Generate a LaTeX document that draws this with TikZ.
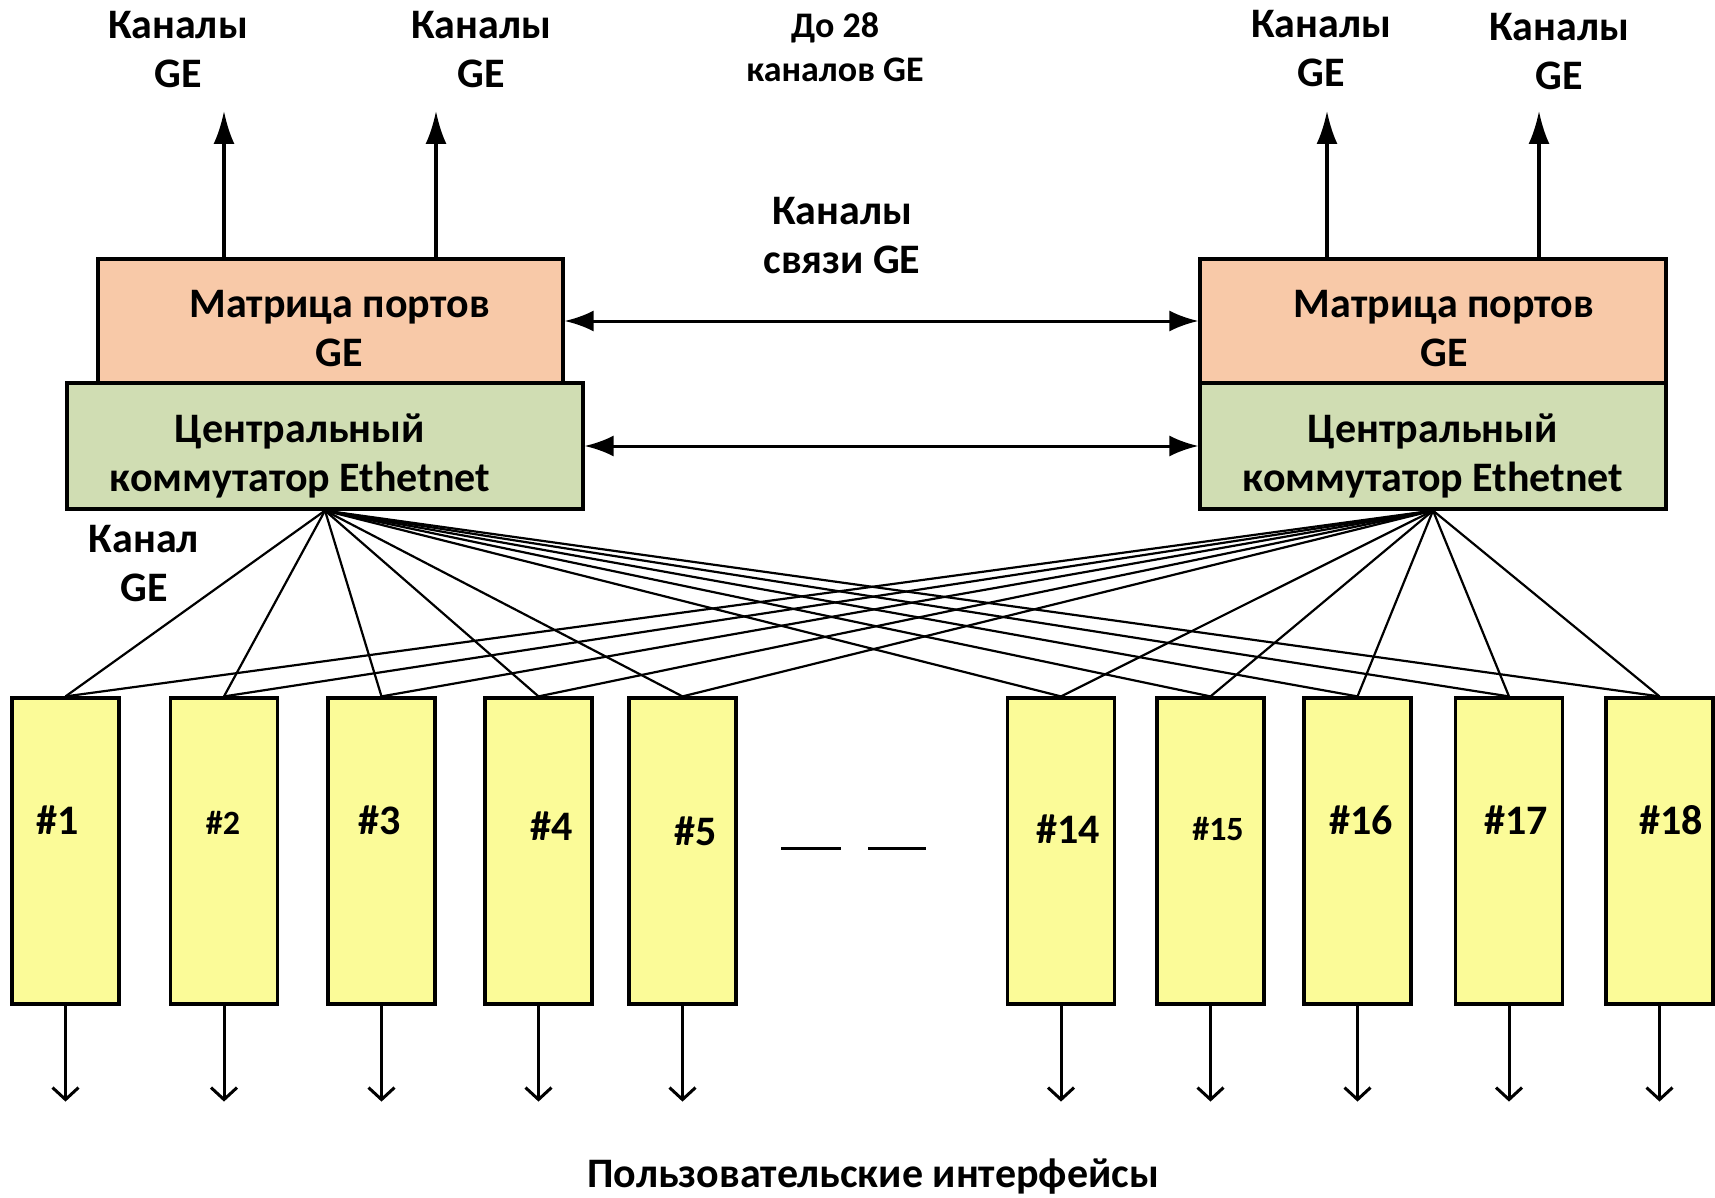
\documentclass[tikz,border=0pt]{standalone}
\usepackage{fontspec}
\setmainfont{Carlito}
\usetikzlibrary{arrows.meta}
\definecolor{matcol}{HTML}{F8C9A8}
\definecolor{swcol}{HTML}{D0DDB3}
\definecolor{ucol}{HTML}{FBFB98}
\tikzset{
  bigfont/.style={font=\bfseries\fontsize{42}{49}\selectfont},
  midfont/.style={font=\bfseries\fontsize{36}{44}\selectfont},
  smallfont/.style={font=\bfseries\fontsize{34}{40}\selectfont},
  matbox/.style={draw, line width=3.2pt, fill=matcol, minimum height=124pt, inner sep=0pt, align=center, bigfont},
  swbox/.style={draw, line width=3.2pt, fill=swcol, minimum height=126pt, inner sep=0pt, align=center, bigfont},
  ubox/.style={draw, line width=3.2pt, fill=ucol, minimum width=107pt, minimum height=306pt, inner sep=0pt},
  lbl/.style={align=center, inner sep=0pt, bigfont},
  link/.style={line width=2.2pt},
  uparr/.style={line width=3.2pt, -{Latex[length=33pt,width=21pt]}},
  harr/.style={line width=3pt, {Latex[length=29pt,width=21pt]}-{Latex[length=29pt,width=21pt]}},
  dnarr/.style={line width=3pt, -{Straight Barb[length=12pt,width=26pt]}},
  dashseg/.style={line width=3pt}
}
\begin{document}
\begin{tikzpicture}[x=1pt,y=-1pt]
\useasboundingbox (0,0) rectangle (1715,1198);

% top boxes
\node[matbox, minimum width=465pt] (matL) at (330.5,321)
  {\hspace*{18pt}\rule{0pt}{43pt}Матрица портов\\\hspace*{18pt}GE};
\node[swbox, minimum width=516pt] (swL) at (325,446)
  {\rule{0pt}{49pt}Центральный\hspace*{50pt}\\коммутатор Ethetnet\hspace*{50pt}};
\node[matbox, minimum width=466pt] (matR) at (1433,321)
  {\hspace*{22pt}\rule{0pt}{43pt}Матрица портов\\\hspace*{22pt}GE};
\node[swbox, minimum width=466pt] (swR) at (1433,446)
  {\rule{0pt}{49pt}Центральный\\коммутатор Ethetnet};

% labels
\node[lbl] (tl1) at (178,50) {Каналы\\GE};
\node[lbl] (tl2) at (481,50) {Каналы\\GE};
\node[lbl] (tr1) at (1321,49) {Каналы\\GE};
\node[lbl] (tr2) at (1559,52) {Каналы\\GE};
\node[lbl, midfont] (t28) at (835,47) {До 28\\каналов GE};
\node[lbl] (tsv) at (842,236) {Каналы\\связи GE};
\node[lbl] (tkan) at (144,564) {Канал\\GE};
\node[lbl, anchor=base] (tbot) at (873,1187) {Пользовательские интерфейсы};

% up arrows
\coordinate (aL1) at (224,111);
\coordinate (aL2) at (436,111);
\coordinate (aR1) at (1327,111);
\coordinate (aR2) at (1539,111);
\draw[uparr] (matL.north -| aL1) -- (aL1);
\draw[uparr] (matL.north -| aL2) -- (aL2);
\draw[uparr] (matR.north -| aR1) -- (aR1);
\draw[uparr] (matR.north -| aR2) -- (aR2);

% horizontal links
\draw[harr] (matL) -- (matR);
\draw[harr] (swL) -- (swR);

% user boxes
\foreach \n/\x in {1/65.5, 2/224, 3/381.5, 4/538.5, 5/682.5, 14/1061, 15/1210.5, 16/1357.5, 17/1509, 18/1659.5}{
  \node[ubox] (b\n) at (\x,851) {};
}
\foreach \n in {1,2,3,4,5,14,15,16,17,18}{
  \draw[link] (swL.south) -- (b\n.north);
  \draw[link] (swR.south) -- (b\n.north);
  \path (b\n.south) ++(0,96) coordinate (d\n);
  \draw[dnarr] (b\n) -- (d\n);
}

% box labels
\node[lbl] (l1) at (58,820) {\#1};
\node[lbl, smallfont] (l2) at (223,823) {\#2};
\node[lbl] (l3) at (380,820) {\#3};
\node[lbl] (l4) at (552,826) {\#4};
\node[lbl] (l5) at (696,831) {\#5};
\node[lbl] (l14) at (1068,829) {\#14};
\node[lbl, smallfont] (l15) at (1218,829) {\#15};
\node[lbl] (l16) at (1361,820) {\#16};
\node[lbl] (l17) at (1516,820) {\#17};
\node[lbl] (l18) at (1671,820) {\#18};

% ellipsis dashes
\coordinate (e1a) at (781,848);
\coordinate (e1b) at (841,848);
\coordinate (e2a) at (868,848);
\coordinate (e2b) at (926,848);
\draw[dashseg] (e1a) -- (e1b);
\draw[dashseg] (e2a) -- (e2b);
\end{tikzpicture}
\end{document}
